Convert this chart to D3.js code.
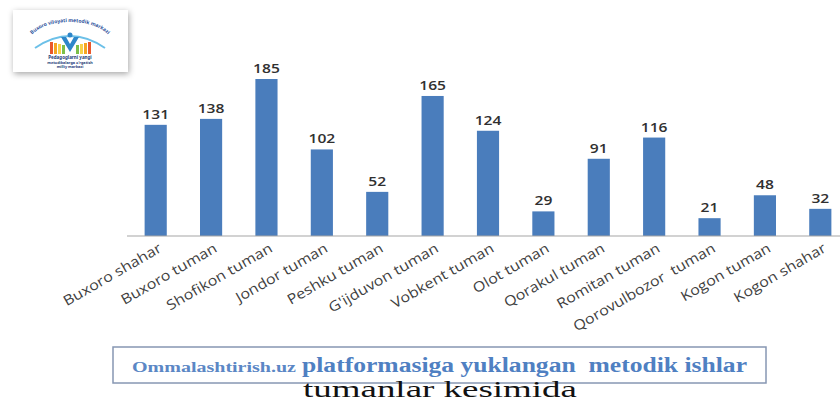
<!DOCTYPE html>
<html>
<head>
<meta charset="utf-8">
<script src="https://cdn.jsdelivr.net/npm/d3@7"></script>
<style>
    body { margin: 0; background: #fff; }
    svg { display: block; }
</style>
</head>
<body>
<div id="chart"></div>
<script>
    'use strict';

    // Data
    var districts = ["Buxoro shahar", "Buxoro tuman", "Shofikon tuman", "Jondor tuman", "Peshku tuman",
        "G'ijduvon tuman", "Vobkent tuman", "Olot tuman", "Qorakul tuman", "Romitan tuman",
        "Qorovulbozor  tuman", "Kogon tuman", "Kogon shahar"];
    var counts = [131, 138, 185, 102, 52, 165, 124, 29, 91, 116, 21, 48, 32];
    var logoArc = "Buxoro viloyati metodik markazi";
    var logoLines = ["Pedagoglarni yangi", "metodikalarga o'rgatish", "milliy markazi"];
    var titleSmall = "Ommalashtirish.uz";
    var titleBig = "platformasiga yuklangan  metodik ishlar";
    var subtitle = "tumanlar kesimida";

    var width = 840, height = 403;
    var svg = d3.select("#chart").append("svg")
        .attr("width", width)
        .attr("height", height);

    var defs = svg.append("defs");
    var shadow = defs.append("filter").attr("id", "shadow")
        .attr("x", "-20%").attr("y", "-30%").attr("width", "140%").attr("height", "160%");
    shadow.append("feDropShadow")
        .attr("dx", 1).attr("dy", 2).attr("stdDeviation", 3)
        .attr("flood-color", "#000").attr("flood-opacity", 0.35);

    // Scales
    var x = d3.scaleBand()
        .domain(districts)
        .range([128, 848])
        .paddingInner(0.6)
        .paddingOuter(0.3);

    var y = d3.scaleLinear()
        .domain([0, 185])
        .range([236, 79]);

    // Bars
    svg.append("g").selectAll("rect")
        .data(districts)
        .enter().append("rect")
        .attr("x", function(d) { return x(d); })
        .attr("width", x.bandwidth())
        .attr("y", function(d, i) { return y(counts[i]); })
        .attr("height", function(d, i) { return y(0) - y(counts[i]); })
        .attr("fill", "#4a7dbc");

    // Value labels
    svg.append("g").selectAll("text")
        .data(districts)
        .enter().append("text")
        .attr("transform", function(d, i) {
            return "translate(" + (x(d) + x.bandwidth() / 2) + "," + (y(counts[i]) - 6) + ") scale(1.25,1)";
        })
        .attr("text-anchor", "middle")
        .style("font-family", "'Open Sans', sans-serif")
        .style("font-size", "12.5px")
        .style("font-weight", 600)
        .style("fill", "#303030")
        .text(function(d, i) { return counts[i]; });

    // X axis
    var xAxis = d3.axisBottom(x).tickSize(0).tickPadding(0);
    var elXAxis = svg.append("g")
        .attr("transform", "translate(0," + y(0) + ")")
        .call(xAxis);
    elXAxis.select(".domain")
        .attr("d", "M127,0H840")
        .attr("stroke", "#a6a6a6")
        .attr("stroke-width", 1.2);
    elXAxis.selectAll(".tick text")
        .attr("text-anchor", "end")
        .attr("y", 0)
        .attr("dy", 0)
        .attr("transform", "translate(7,15) rotate(-30) scale(1.15,1)")
        .style("font-family", "'Open Sans', sans-serif")
        .style("font-size", "14px")
        .style("fill", "#404040")
        .style("white-space", "pre");

    // Logo (top left)
    var logo = svg.append("g").attr("transform", "translate(13,10)");
    logo.append("rect")
        .attr("width", 115).attr("height", 62)
        .attr("fill", "#fff")
        .attr("filter", "url(#shadow)");
    defs.append("path").attr("id", "logoArc")
        .attr("d", "M15,34 A42,22 0 0,1 99,34");
    logo.append("text")
        .style("font-family", "'Noto Sans', sans-serif")
        .style("font-size", "5px")
        .style("font-weight", 700)
        .style("fill", "#2b4f9b")
        .append("textPath")
        .attr("href", "#logoArc")
        .attr("startOffset", "50%")
        .attr("text-anchor", "middle")
        .text(logoArc);
    logo.append("path")
        .attr("d", "M22,38 Q57,14 92,38")
        .attr("fill", "none").attr("stroke", "#6cc0e8").attr("stroke-width", 2);
    // books
    var bookColors = ["#e9582b", "#f5a623", "#f8d24a", "#7cbf4a"];
    bookColors.forEach(function(c, i) {
        logo.append("rect").attr("x", 37 + i * 4).attr("y", 32 + i).attr("width", 3).attr("height", 12 - i).attr("fill", c);
        logo.append("rect").attr("x", 75 - i * 4).attr("y", 32 + i).attr("width", 3).attr("height", 12 - i).attr("fill", c);
    });
    logo.append("path")
        .attr("d", "M48,27 L57,42 L66,27 L61,27 L57,34 L53,27 Z")
        .attr("fill", "#2e86c9");
    logo.append("circle").attr("cx", 57).attr("cy", 25).attr("r", 2.5).attr("fill", "#2e86c9");
    logoLines.forEach(function(t, i) {
        logo.append("text")
            .attr("x", 57).attr("y", 49 + i * 4.5)
            .attr("text-anchor", "middle")
            .style("font-family", "'Noto Sans', sans-serif")
            .style("font-size", i === 0 ? "4.5px" : "3.8px")
            .style("font-weight", 700)
            .style("fill", "#27407a")
            .text(t);
    });

    // Title box
    svg.append("rect")
        .attr("x", 113).attr("y", 347)
        .attr("width", 653).attr("height", 36)
        .attr("fill", "#fff")
        .attr("stroke", "#8797b3")
        .attr("stroke-width", 1.5);
    svg.append("text")
        .attr("x", 132).attr("y", 372)
        .attr("textLength", 164).attr("lengthAdjust", "spacingAndGlyphs")
        .style("font-family", "'Liberation Serif', serif")
        .style("font-size", "15px")
        .style("font-weight", 700)
        .style("fill", "#5b87c5")
        .text(titleSmall);
    svg.append("text")
        .attr("x", 302).attr("y", 372)
        .attr("textLength", 445).attr("lengthAdjust", "spacingAndGlyphs")
        .style("font-family", "'Liberation Serif', serif")
        .style("font-size", "20px")
        .style("font-weight", 700)
        .style("fill", "#4f80c2")
        .style("white-space", "pre")
        .text(titleBig);
    svg.append("text")
        .attr("x", 303).attr("y", 397)
        .attr("textLength", 274).attr("lengthAdjust", "spacingAndGlyphs")
        .style("font-family", "'Liberation Serif', serif")
        .style("font-size", "23px")
        .style("fill", "#111")
        .text(subtitle);
</script>
</body>
</html>
